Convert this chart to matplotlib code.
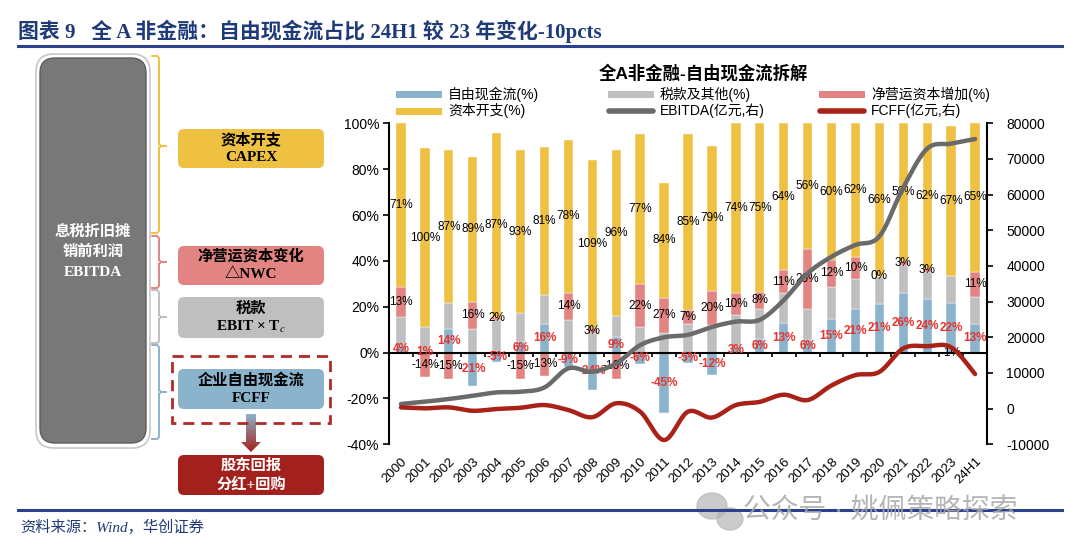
import numpy as np
import matplotlib
matplotlib.use("Agg")
import matplotlib.pyplot as plt
from matplotlib.patches import FancyBboxPatch, Rectangle, Polygon, Ellipse
from matplotlib.colors import LinearSegmentedColormap

plt.rcParams['font.family'] = ['Liberation Sans', 'Noto Sans CJK SC']
plt.rcParams['mathtext.fontset'] = 'stix'

# categories
years = ["2000", "2001", "2002", "2003", "2004", "2005", "2006", "2007", "2008",
         "2009", "2010", "2011", "2012", "2013", "2014", "2015", "2016", "2017",
         "2018", "2019", "2020", "2021", "2022", "2023", "24H1"]

# stacked bar segment heights as drawn (% of bar)
fcff_bar = [3.0, 0.8, 10.2, -14.5, -3.9, 4.4, 12.5, -6.1, -16.3, 6.7, -4.9, -26.2, -4.7,
            -9.7, 2.3, 6.1, 12.8, 5.5, 14.5, 19.0, 21.2, 25.9, 23.4, 21.8, 12.5]
tax_bar = [12.7, 10.2, 11.3, 10.5, 14.2, 12.8, 12.6, 14.0, 8.6, 9.4, 11.0, 8.5, 12.5,
           12.0, 14.1, 12.9, 13.1, 13.4, 14.3, 13.0, 12.3, 12.3, 11.9, 11.6, 11.6]
nwc_bar = [13.1, -10.8, -11.6, 11.7, 1.4, -11.6, -10.2, 12.2, 2.0, -11.6, 18.9, 15.5, 6.1,
           14.9, 9.8, 7.5, 10.1, 26.2, 11.6, 9.6, 0.0, 1.8, 1.5, -0.6, 11.2]
capex_bar = [71.2, 78.1, 66.9, 63.3, 80.0, 71.2, 64.7, 66.5, 73.4, 72.3, 65.4, 49.8, 76.7,
             63.4, 73.8, 73.5, 64.0, 54.9, 59.6, 58.4, 66.5, 60.0, 63.2, 65.4, 64.7]

# data labels (%)
fcff_lbl = [4, 1, 14, -21, -5, 6, 16, -9, -24, 9, -6, -45, -5, -12, 3, 6, 13, 6, 15, 21,
            21, 26, 24, 22, 13]
nwc_lbl = [13, -14, -15, 16, 2, -15, -13, 14, 3, -16, 22, 27, 7, 20, 10, 8, 11, 26, 12, 10,
           0, 3, 3, -1, 11]
capex_lbl = [71, 100, 87, 89, 87, 93, 81, 78, 109, 96, 77, 84, 85, 79, 74, 75, 64, 56, 60,
             62, 66, 59, 62, 67, 65]

# right axis lines (亿元)
ebitda = [1300, 1950, 2700, 3600, 4550, 4750, 5950, 11300, 10350, 12700, 17800, 20000,
          20700, 22900, 24400, 24900, 30400, 37900, 42600, 45900, 48300, 62000, 72900,
          74300, 75600]
fcff_amt = [350, 80, 350, -600, -100, 250, 1000, -400, -2400, 1500, -850, -8800, -850,
            -2500, 1000, 1900, 3900, 2400, 6500, 9400, 10300, 16900, 17500, 17200, 9700]

c_blue = '#8BB3CC'
c_gray = '#BFBFBF'
c_pink = '#E28582'
c_yellow = '#EEC143'
c_ebitda = '#6A6A6A'
c_fcff = '#A82218'
c_navy = '#1F3A78'
c_red_lbl = '#E8322C'


def smooth(xs, ys, n=24):
    pts = np.column_stack([xs, ys]).astype(float)
    pts = np.vstack([pts[0], pts, pts[-1]])
    out = []
    t = np.linspace(0, 1, n)[:, None]
    for i in range(1, len(pts) - 2):
        p0, p1, p2, p3 = pts[i - 1], pts[i], pts[i + 1], pts[i + 2]
        seg = 0.5 * (2 * p1 + (-p0 + p2) * t + (2 * p0 - 5 * p1 + 4 * p2 - p3) * t ** 2
                     + (-p0 + 3 * p1 - 3 * p2 + p3) * t ** 3)
        out.append(seg)
    out = np.vstack(out)
    return out[:, 0], out[:, 1]


fig = plt.figure(figsize=(10.8, 5.54), dpi=100)

# background layer in pixel coordinates
bg = fig.add_axes([0, 0, 1, 1])
bg.set_xlim(0, 1080)
bg.set_ylim(554, 0)
bg.axis('off')

serif = ['Liberation Serif', 'Noto Sans CJK SC']

bg.text(18, 31, "图表 9   全 A 非金融：自由现金流占比 24H1 较 23 年变化-10pcts",
        fontsize=15, fontweight='bold', color=c_navy, family=serif, va='center', ha='left')
bg.plot([18, 1062], [46, 46], color='#2B4190', lw=2.2)
bg.plot([18, 1062], [510, 510], color='#2B4190', lw=2.2)
bg.text(20, 527, "资料来源：Wind，华创证券", fontsize=11, style='italic', color=c_navy,
        family=serif, va='center', ha='left')

# left diagram
bg.add_patch(FancyBboxPatch((36, 54), 114, 394, boxstyle="round,pad=0,rounding_size=18",
                            facecolor='white', edgecolor='#C8C8C8', lw=1.2))
bg.add_patch(FancyBboxPatch((40, 58), 106, 385, boxstyle="round,pad=0,rounding_size=15",
                            facecolor='#787878', edgecolor='#5E5E5E', lw=1.0))
for txt, yy in [("息税折旧摊", 232), ("销前利润", 252), ("EBITDA", 272)]:
    bg.text(93, yy, txt, color='white', fontsize=11, fontweight='bold', family=serif,
            ha='center', va='center')


def brace(y0, y1, ym, color):
    x0, x1, xm = 152, 159, 166
    bg.plot([x0, x1 - 2], [y0, y0], color=color, lw=1.4, solid_capstyle='round')
    xs = [x1 - 2, x1, x1, x1 + 1, xm]
    bg.plot([x1 - 2, x1, x1], [y0, y0 + 2, ym - 2], color=color, lw=1.4)
    bg.plot([x1, x1 + 2, xm], [ym - 2, ym, ym], color=color, lw=1.4)
    bg.plot([x1, x1 + 2], [ym + 2, ym], color=color, lw=1.4)
    bg.plot([x1, x1, x1 - 2, x0], [ym + 2, y1 - 2, y1, y1], color=color, lw=1.4)


brace(56, 233, 146, c_yellow)
brace(236, 288, 262, c_pink)
brace(290, 343, 317, c_gray)
brace(345, 439, 392, c_blue)

boxes = [
    (129, 168, c_yellow, "资本开支", "CAPEX", 'black'),
    (246, 285, c_pink, "净营运资本变化", "△NWC", 'black'),
    (297, 338, c_gray, "税款", r"EBIT × T$_c$", 'black'),
    (369, 409, c_blue, "企业自由现金流", "FCFF", 'black'),
    (455, 495, '#A3211C', "股东回报", "分红+回购", 'white'),
]
for y0, y1, col, t1, t2, tc in boxes:
    bg.add_patch(FancyBboxPatch((178, y0), 146, y1 - y0, boxstyle="round,pad=0,rounding_size=6",
                                facecolor=col, edgecolor='none'))
    bg.text(251, y0 + (y1 - y0) * 0.27, t1, fontsize=11, fontweight='bold', color=tc,
            family=serif, ha='center', va='center')
    bg.text(251, y0 + (y1 - y0) * 0.74, t2, fontsize=11, fontweight='bold', color=tc,
            family=serif, ha='center', va='center')

bg.add_patch(Rectangle((172, 356), 158, 67, facecolor='none', edgecolor='#B02A26', lw=2,
                       linestyle=(0, (4, 2.5))))

arrow = Polygon([(246, 414), (256, 414), (256, 442), (261, 442), (251, 452), (241, 442),
                 (246, 442)], closed=True, facecolor='none', edgecolor='none')
bg.add_patch(arrow)
cmap = LinearSegmentedColormap.from_list('arr', [c_blue, '#A3211C'])
im = bg.imshow(np.linspace(0, 1, 60).reshape(-1, 1), extent=(240, 262, 452, 414),
               cmap=cmap, aspect='auto', origin='upper')
im.set_clip_path(arrow)
bg.set_xlim(0, 1080)
bg.set_ylim(554, 0)

# watermark
bg.add_patch(Ellipse((712, 506), 30, 26, color='#B5B5B5', alpha=0.7))
bg.add_patch(Ellipse((730, 519), 26, 22, color='#B5B5B5', alpha=0.7))
bg.text(743, 512, "公众号 · 姚佩策略探索", fontsize=20, color='#A8A8A8', alpha=0.85,
        ha='left', va='center')

# chart title and legend
bg.text(703, 73, "全A非金融-自由现金流拆解", fontsize=12.5, fontweight='bold',
        ha='center', va='center')
leg_items = [
    (396, 94, 'patch', c_blue, "自由现金流(%)"),
    (608, 94, 'patch', c_gray, "税款及其他(%)"),
    (819, 94, 'patch', c_pink, "净营运资本增加(%)"),
    (396, 111, 'patch', c_yellow, "资本开支(%)"),
    (608, 111, 'line', c_ebitda, "EBITDA(亿元,右)"),
    (819, 111, 'line', c_fcff, "FCFF(亿元,右)"),
]
for lx, ly, kind, col, txt in leg_items:
    if kind == 'patch':
        bg.add_patch(Rectangle((lx, ly - 3.5), 46, 7, facecolor=col, edgecolor='none'))
    else:
        bg.plot([lx + 1, lx + 45], [ly, ly], color=col, lw=4, solid_capstyle='round')
    bg.text(lx + 52, ly, txt, fontsize=10, ha='left', va='center')

# main chart
ax = fig.add_axes([389 / 1080, 1 - 444.3 / 554, 598 / 1080, 321 / 554])
ax.patch.set_alpha(0)
x = np.arange(len(years))
width = 0.39

pos = np.zeros(len(years))
neg = np.zeros(len(years))
series = [(fcff_bar, c_blue, fcff_lbl, 'fcff'), (tax_bar, c_gray, None, 'tax'),
          (nwc_bar, c_pink, nwc_lbl, 'nwc'), (capex_bar, c_yellow, capex_lbl, 'capex')]
for vals, col, lbls, name in series:
    vals = np.array(vals)
    bottoms = np.where(vals >= 0, pos, neg)
    ax.bar(x, vals, width, bottom=bottoms, color=col, edgecolor='white', lw=0.3, zorder=2)
    if lbls is not None:
        for xi, b, v, lb in zip(x, bottoms, vals, lbls):
            if name == 'fcff':
                ax.text(xi, b + v / 2, f"{lb}%", color=c_red_lbl, fontsize=8.5,
                        fontweight='bold', ha='center', va='center', zorder=4)
            else:
                ax.text(xi, b + v / 2, f"{lb}%", color='black', fontsize=8.5,
                        ha='center', va='center', zorder=4)
    pos = pos + np.where(vals >= 0, vals, 0)
    neg = neg + np.where(vals < 0, vals, 0)

ax.set_xlim(-0.5, len(years) - 0.5)
ax.set_ylim(-40, 100)
ax.set_yticks(range(-40, 101, 20))
ax.set_yticklabels([f"{v}%" for v in range(-40, 101, 20)], fontsize=10)
ax.axhline(0, color='black', lw=1.5, zorder=3)
ax.vlines(np.arange(0.5, len(years) - 1, 1), -2.0, 0, color='black', lw=1.2, zorder=3)
ax.set_xticks(x)
ax.set_xticklabels(years, fontsize=9.5, rotation=45, ha='right', va='top',
                   rotation_mode='anchor')
ax.tick_params(axis='x', length=0, pad=8)
ax.tick_params(axis='y', length=4, width=1.2, pad=3)
for s in ['top', 'right', 'bottom']:
    ax.spines[s].set_visible(False)
ax.spines['left'].set_linewidth(1.5)

ax2 = ax.twinx()
ex, ey = smooth(x, ebitda)
fx, fy = smooth(x, fcff_amt)
ax2.plot(ex, ey, color=c_ebitda, lw=3.2, solid_capstyle='round', zorder=5)
ax2.plot(fx, fy, color=c_fcff, lw=3.2, solid_capstyle='round', zorder=5)
ax2.set_ylim(-10000, 80000)
ax2.set_yticks(range(-10000, 80001, 10000))
ax2.set_yticklabels([str(v) for v in range(-10000, 80001, 10000)], fontsize=10)
ax2.tick_params(axis='y', length=4, width=1.2, pad=10)
for s in ['top', 'left', 'bottom']:
    ax2.spines[s].set_visible(False)
ax2.spines['right'].set_linewidth(1.5)

fig.savefig("out.png", dpi=100)
